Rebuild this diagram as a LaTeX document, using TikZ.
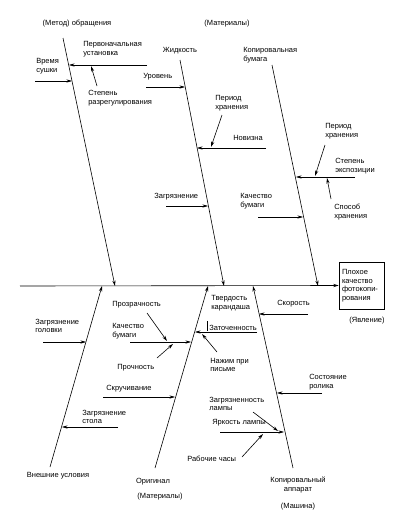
\documentclass[tikz,border=0pt]{standalone}
\usepackage{fontspec}
\setmainfont{Liberation Sans}
\usetikzlibrary{arrows.meta, positioning}

\begin{document}
\begin{tikzpicture}[x=1pt, y=-1pt, line width=0.6pt,
    >={Stealth[length=5.5pt, width=3.2pt]},
    lbl/.style={inner sep=0pt, align=left, anchor=west, font=\fontsize{7.5}{8.6}\selectfont},
    ttl/.style={inner sep=0pt, align=center, font=\fontsize{7.5}{8.6}\selectfont},
    effect/.style={draw, inner sep=2.5pt, minimum width=45pt, minimum height=47pt, text width=39pt, align=left, font=\fontsize{7.5}{8.6}\selectfont}]
    \useasboundingbox (0,0) rectangle (408,531);

    % Голова рыбы: прямоугольник и хребет
    \node[effect] (plokh) at (361.5,285.5) {Плохое\\качество\\фотокопи-\\рования};
    \node[ttl] (yavl) at (367,321) {(Явление)};
    \coordinate (hvost) at (20,286);
    \draw[->] (hvost) -- (plokh.west);

    % Верхние кости
    \coordinate (k1a) at (63,38);   \coordinate (k1b) at (115,286);
    \coordinate (k2a) at (180,60);  \coordinate (k2b) at (224,286);
    \coordinate (k3a) at (272,65);  \coordinate (k3b) at (318,286);
    \draw[->] (k1a) -- (k1b);
    \draw[->] (k2a) -- (k2b);
    \draw[->] (k3a) -- (k3b);
    \node[ttl] (metod) at (77,24) {(Метод) обращения};
    \node[ttl] (mater) at (227,24) {(Материалы)};
    \node[ttl] (zhidk) at (180,51) {Жидкость};
    \node[lbl] (kbum) at (243,55) {Копировальная\\бумага};

    % Метод обращения
    \node[lbl] (perv) at (83,49) {Первоначальная\\установка};
    \coordinate (perv1) at (147,65); \coordinate (perv2) at (69,65);
    \draw[->] (perv1) -- (perv2);
    \node[lbl] (sush) at (36,66) {Время\\сушки};
    \coordinate (sush1) at (35,81); \coordinate (sush2) at (72,81);
    \draw[->] (sush1) -- (sush2);
    \node[lbl] (razr) at (88,98) {Степень\\разрегулирования};
    \coordinate (razr1) at (97,86); \coordinate (razr2) at (91,66);
    \draw[->] (razr1) -- (razr2);

    % Жидкость
    \node[lbl] (urov) at (143,77) {Уровень};
    \coordinate (urov1) at (146,87); \coordinate (urov2) at (185,87);
    \draw[->] (urov1) -- (urov2);
    \node[lbl] (novz) at (233,138) {Новизна};
    \coordinate (novz1) at (266,148); \coordinate (novz2) at (197,148);
    \draw[->] (novz1) -- (novz2);
    \node[lbl] (per1) at (215,103) {Период\\хранения};
    \coordinate (per1a) at (222,115); \coordinate (per1b) at (211,147);
    \draw[->] (per1a) -- (per1b);
    \node[lbl] (zagr) at (154,197) {Загрязнение};
    \coordinate (zagr1) at (166,206); \coordinate (zagr2) at (208,206);
    \draw[->] (zagr1) -- (zagr2);

    % Копировальная бумага
    \node[lbl] (eksp) at (335,166) {Степень\\экспозиции};
    \coordinate (eksp1) at (355,177); \coordinate (eksp2) at (296,177);
    \draw[->] (eksp1) -- (eksp2);
    \node[lbl] (per2) at (325,131) {Период\\хранения};
    \coordinate (per2a) at (325,145); \coordinate (per2b) at (315,176);
    \draw[->] (per2a) -- (per2b);
    \node[lbl] (sposob) at (334,212) {Способ\\хранения};
    \coordinate (sposob1) at (331,199); \coordinate (sposob2) at (327,178);
    \draw[->] (sposob1) -- (sposob2);
    \node[lbl] (kach1) at (240,201) {Качество\\бумаги};
    \coordinate (kach1a) at (258,217); \coordinate (kach1b) at (303,217);
    \draw[->] (kach1a) -- (kach1b);

    % Нижние кости
    \coordinate (k4a) at (50,467);  \coordinate (k4b) at (102,286);
    \coordinate (k5a) at (155,468); \coordinate (k5b) at (208,286);
    \coordinate (k6a) at (293,468); \coordinate (k6b) at (253,286);
    \draw[->] (k4a) -- (k4b);
    \draw[->] (k5a) -- (k5b);
    \draw[->] (k6a) -- (k6b);
    \node[ttl] (vnesh) at (58,476) {Внешние условия};
    \node[ttl] (orig) at (153,482) {Оригинал};
    \node[ttl] (mater2) at (160,497) {(Материалы)};
    \node[ttl] (apparat) at (298,485) {Копировальный\\аппарат};
    \node[ttl] (mash) at (298,507) {(Машина)};

    % Внешние условия
    \node[lbl] (golov) at (35,326) {Загрязнение\\головки};
    \coordinate (golov1) at (43,342); \coordinate (golov2) at (86,342);
    \draw[->] (golov1) -- (golov2);
    \node[lbl] (stol) at (82,417) {Загрязнение\\стола};
    \coordinate (stol1) at (118,427); \coordinate (stol2) at (62,427);
    \draw[->] (stol1) -- (stol2);

    % Оригинал
    \node[lbl] (kach2) at (112,331) {Качество\\бумаги};
    \coordinate (kach2a) at (130,342); \coordinate (kach2b) at (191,342);
    \draw[->] (kach2a) -- (kach2b);
    \node[lbl] (prozr) at (112,305) {Прозрачность};
    \coordinate (prozr1) at (147,313); \coordinate (prozr2) at (167,341);
    \draw[->] (prozr1) -- (prozr2);
    \node[lbl] (proch) at (117,368) {Прочность};
    \coordinate (proch1) at (157,358); \coordinate (proch2) at (173,344);
    \draw[->] (proch1) -- (proch2);
    \node[lbl] (skruch) at (106,389) {Скручивание};
    \coordinate (skruch1) at (103,397); \coordinate (skruch2) at (175,397);
    \draw[->] (skruch1) -- (skruch2);
    \node[lbl] (tverd) at (211,303) {Твердость\\карандаша};
    \node[lbl] (zatoch) at (209,328) {Заточенность};
    \coordinate (zatoch1) at (257,332); \coordinate (zatoch2) at (195,332);
    \draw[->] (zatoch1) -- (zatoch2);
    \coordinate (tverd1) at (207,321); \coordinate (tverd2) at (207,331);
    \draw (tverd1) -- (tverd2);
    \node[lbl] (nazhim) at (210,365) {Нажим при\\письме};
    \coordinate (nazhim1) at (217,352); \coordinate (nazhim2) at (202,334);
    \draw[->] (nazhim1) -- (nazhim2);

    % Копировальный аппарат
    \node[lbl] (skor) at (277,304) {Скорость};
    \coordinate (skor1) at (308,314); \coordinate (skor2) at (259,314);
    \draw[->] (skor1) -- (skor2);
    \node[lbl] (rolik) at (309,382) {Состояние\\ролика};
    \coordinate (rolik1) at (322,393); \coordinate (rolik2) at (277,393);
    \draw[->] (rolik1) -- (rolik2);
    \node[lbl] (yark) at (212,423) {Яркость лампы};
    \coordinate (yark1) at (220,432); \coordinate (yark2) at (284,432);
    \draw[->] (yark1) -- (yark2);
    \node[lbl] (lamp) at (209,404) {Загрязненность\\лампы};
    \coordinate (lamp1) at (253,412); \coordinate (lamp2) at (278,431);
    \draw[->] (lamp1) -- (lamp2);
    \node[lbl] (chasy) at (187,459) {Рабочие часы};
    \coordinate (chasy1) at (242,457); \coordinate (chasy2) at (263,434);
    \draw[->] (chasy1) -- (chasy2);
\end{tikzpicture}
\end{document}
